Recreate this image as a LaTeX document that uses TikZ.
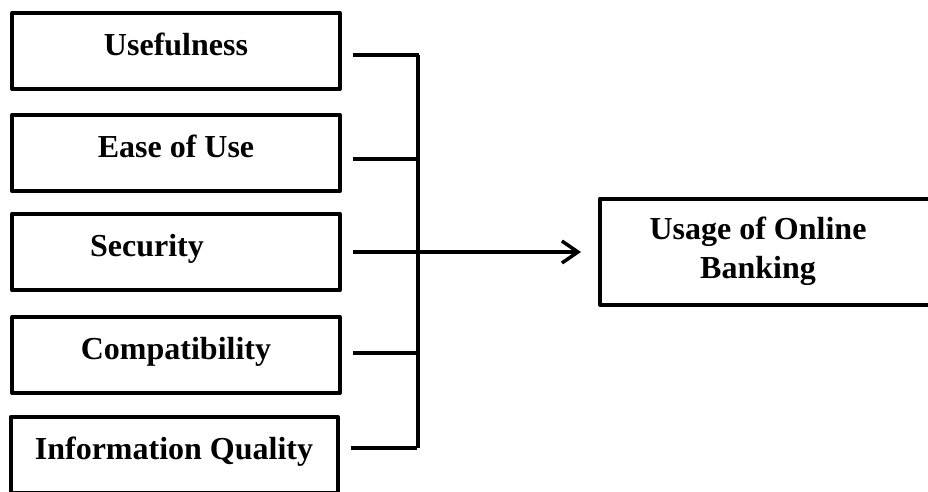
\documentclass[tikz,border=0pt]{standalone}
\usepackage{fontspec}
\setmainfont{Liberation Serif}
\usetikzlibrary{arrows.meta}

\begin{document}
\begin{tikzpicture}[x=1pt, y=-1pt,
      FB/.style = {draw, line width=4pt, line join=round, minimum width=328pt,
      minimum height=76pt, inner sep=0pt, text height=24pt, text depth=16pt,
      font=\fontsize{32}{39}\selectfont\bfseries},
      LN/.style = {line width=3.5pt} ]
\useasboundingbox (0,0) rectangle (928,491);
\clip (0,0) rectangle (928,491);

\node (use)  [FB] at (176,51)  {Usefulness};
\node (ease) [FB] at (176,153) {Ease of Use};
\node (sec)  [FB] at (176,252) {\hspace*{-58pt}Security};
\node (comp) [FB] at (176,355) {Compatibility};
\node (info) [FB, minimum width=327pt] at (174,455) {Information Quality};

\node (bank) [FB, minimum width=340pt, minimum height=106pt] at (770,251.5) {};
\node (banktxt) [align=center, font=\fontsize{32}{39}\selectfont\bfseries]
      at (758,251) {Usage of Online\\Banking};

\coordinate (bustop) at (418,55);
\coordinate (busbot) at (418,448);
\draw[LN] (bustop) -- (busbot);
\foreach \n/\dy in {use/4, ease/6, comp/-2, info/-7}
  \draw[LN] ([shift={(11,\dy)}]\n.east) -- ++(66,0);
\draw[LN, -{Straight Barb[length=16pt,width=22pt]}, shorten >=17pt]
      ([xshift=11pt]sec.east) -- (sec.east -| bank.west);
\end{tikzpicture}
\end{document}
